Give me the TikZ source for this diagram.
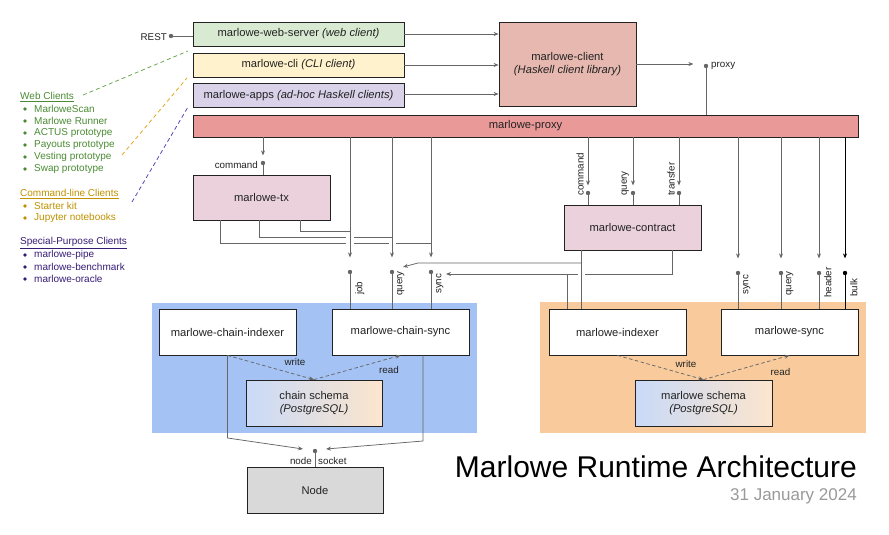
\documentclass[tikz,border=0pt]{standalone}
\usepackage{fontspec}
\setmainfont{Liberation Sans}
\usetikzlibrary{arrows.meta,calc}
\definecolor{lc}{HTML}{666666}
\definecolor{txt}{HTML}{222222}
\definecolor{webf}{HTML}{D9EAD3}
\definecolor{clif}{HTML}{FFF2CC}
\definecolor{appf}{HTML}{D9D2E9}
\definecolor{clientf}{HTML}{E6B8AF}
\definecolor{proxyf}{HTML}{EA9999}
\definecolor{pinkf}{HTML}{EAD1DC}
\definecolor{bluep}{HTML}{A4C2F4}
\definecolor{orangep}{HTML}{F9CB9C}
\definecolor{nodef}{HTML}{D9D9D9}
\definecolor{schL}{HTML}{C9DAF8}
\definecolor{schR}{HTML}{FCE5CD}
\definecolor{wgreen}{HTML}{4A8A33}
\definecolor{wgreenl}{HTML}{6AA84F}
\definecolor{cgold}{HTML}{BF9000}
\definecolor{cgoldl}{HTML}{E0A91E}
\definecolor{spurp}{HTML}{351C75}
\definecolor{spurpl}{HTML}{5B46B5}
\definecolor{dategray}{HTML}{999999}
\begin{document}
\begin{tikzpicture}[x=1pt,y=-1pt,
  box/.style={draw=txt, line width=0.8pt, inner sep=0pt, align=center,
    font=\fontsize{11.2}{13.5}\selectfont, text=txt},
  panel/.style={inner sep=0pt, draw=none},
  conn/.style={draw=lc, line width=0.75pt},
  arr/.style={conn, -{Stealth[length=5pt,width=4pt]}},
  darr/.style={arr, dash pattern=on 3.5pt off 2.5pt},
  port/.style={circle, fill=lc, inner sep=0pt, minimum size=4.4pt},
  lbl/.style={font=\fontsize{9.8}{11}\selectfont, text=txt, inner sep=1pt},
  rlbl/.style={lbl, rotate=90, anchor=north west},
  llbl/.style={lbl, rotate=90, anchor=south west},
  leg/.style={anchor=west, inner sep=0pt, font=\fontsize{10}{12}\selectfont},
  legdash/.style={line width=0.8pt, dash pattern=on 4pt off 3pt},
  bridge/.style={fill=white, draw=none},
]
\useasboundingbox (0,0) rectangle (889,535);

% ---------- panels ----------
\node[panel, fill=bluep, minimum width=325pt, minimum height=130pt] (bpanel) at (314.5,368) {};
\node[panel, fill=orangep, minimum width=326pt, minimum height=131pt] (opanel) at (703,367.5) {};

% ---------- boxes ----------
\node[box, fill=webf, minimum width=211pt, minimum height=24pt] (web) at (298.5,34) {marlowe-web-server \textit{(web client)}};
\node[box, fill=clif, minimum width=211pt, minimum height=24pt] (cli) at (298.5,65) {marlowe-cli \textit{(CLI client)}};
\node[box, fill=appf, minimum width=211pt, minimum height=24pt] (apps) at (298.5,95.5) {marlowe-apps \textit{(ad-hoc Haskell clients)}};
\node[box, fill=clientf, minimum width=137pt, minimum height=84pt] (client) at (567.5,64) {marlowe-client\\\textit{(Haskell client library)}};
\node[box, fill=proxyf, minimum width=665pt, minimum height=22pt] (proxy) at (525.5,126) {marlowe-proxy};
\node[box, fill=pinkf, minimum width=137pt, minimum height=45pt] (tx) at (261.5,197.5) {marlowe-tx};
\node[box, fill=pinkf, minimum width=137pt, minimum height=45pt] (contract) at (632.5,227.5) {marlowe-contract};
\node[box, fill=white, minimum width=137pt, minimum height=46pt] (cidx) at (227.5,332) {marlowe-chain-indexer};
\node[box, fill=white, minimum width=137pt, minimum height=46pt] (csync) at (400.5,332) {marlowe-chain-sync};
\node[box, left color=schL, right color=schR, minimum width=136pt, minimum height=46pt] (cschema) at (314,403) {chain schema\\\textit{(PostgreSQL)}};
\node[box, fill=white, minimum width=137pt, minimum height=46pt] (midx) at (617.5,332) {marlowe-indexer};
\node[box, fill=white, minimum width=137pt, minimum height=46pt] (msync) at (789.5,332) {marlowe-sync};
\node[box, left color=schL, right color=schR, minimum width=137pt, minimum height=46pt] (mschema) at (703.5,403) {marlowe schema\\\textit{(PostgreSQL)}};
\node[box, fill=nodef, minimum width=136pt, minimum height=46pt] (cnode) at (315,490) {Node};

% ---------- ports ----------
\node[port] (prest) at (171,36) {};
\node[port] (pproxy) at (706,66) {};
\node[port] (ptxc) at (263,163) {};
\node[port] (pjob) at (350,272) {};
\node[port] (pcq) at (392,272) {};
\node[port] (pcs) at (431,272) {};
\node[port] (pcc) at (588,193) {};
\node[port] (pcqq) at (633,193) {};
\node[port] (pct) at (679,193) {};
\node[port] (pss) at (738,273) {};
\node[port] (psq) at (781,273) {};
\node[port] (psh) at (819,273) {};
\node[port, fill=black] (psb) at (845,273) {};
\node[port] (pnode) at (315,451) {};

% ---------- labels ----------
\node[lbl, anchor=east] (lrest) at (168,37) {REST};
\node[lbl, anchor=west] (lproxy) at (710,66) {proxy};
\node[lbl, anchor=east] (ltxc) at (259,165) {command};
\node[rlbl] (ljob) at (354,296) {job};
\node[rlbl] (lcq) at (396,297) {query};
\node[rlbl] (lcs) at (435,295) {sync};
\node[llbl] (lcc) at (585,197) {command};
\node[llbl] (lcqq) at (630,197) {query};
\node[llbl] (lct) at (676,197) {transfer};
\node[rlbl] (lss) at (742,296) {sync};
\node[rlbl] (lsq) at (785,297) {query};
\node[rlbl] (lsh) at (823,299) {header};
\node[rlbl] (lsb) at (849,298) {bulk};
\node[lbl] (lcw) at (295,362) {write};
\node[lbl] (lcr) at (389,370) {read};
\node[lbl] (lmw) at (686,364) {write};
\node[lbl] (lmr) at (780.5,372) {read};
\node[lbl, anchor=east] (lnode) at (313,461) {node};
\node[lbl, anchor=west] (lsock) at (317,461) {socket};

% ---------- top connections ----------
\draw[conn] (prest) -- (prest -| web.west);
\draw[arr] (web.east) -- (web.east -| client.west);
\draw[arr] (cli.east) -- (cli.east -| client.west);
\draw[arr] (apps.east |- 0,94) -- (client.west |- 0,94);
\draw[arr] (client.east) -- ++(57,0);
\draw[conn] (pproxy) -- (pproxy |- proxy.north);

% ---------- marlowe-tx ----------
\draw[arr] (proxy.south -| ptxc) -- ++(0,18);
\draw[conn] (ptxc) -- (ptxc |- tx.north);
\coordinate (tj) at (350,231);
\coordinate (tq) at (392,237);
\coordinate (ts) at (431,243);
\draw[conn] ([xshift=38.5pt]tx.south) |- (tj);
\draw[conn] ([xshift=-2.5pt]tx.south) |- (tq);
\draw[conn] ([xshift=-41.5pt]tx.south) |- (ts);

% ---------- marlowe-contract outputs ----------
\coordinate (cqj) at (581,263);
\coordinate (cqb) at (418,263);
\coordinate (cqt) at (403,267);
\coordinate (csj) at (446,274);
\draw[arr] (cqj) -- (cqb) -- (cqt);
\draw[arr] ([xshift=39.5pt]contract.south) |- (csj);
\draw[conn] ([xshift=-50.5pt]midx.north) -- (567,274);

% bridges (line jumps)
\fill[bridge] (346,235.5) rectangle (354,238.5);
\fill[bridge] (346,241.5) rectangle (354,244.5);
\fill[bridge] (388.5,241.5) rectangle (395.5,244.5);
\fill[bridge] (577.5,272.5) rectangle (584.5,275.5);

\draw[conn] ([xshift=-51.5pt]contract.south) -- ([xshift=-36.5pt]midx.north);

% ---------- chain-sync ports ----------
\draw[arr] (proxy.south -| pjob) -- ++(0,120);
\draw[arr] (proxy.south -| pcq) -- ++(0,120);
\draw[arr] (proxy.south -| pcs) -- ++(0,120);
\draw[conn] (pjob) -- (pjob |- csync.north);
\draw[conn] (pcq) -- (pcq |- csync.north);
\draw[conn] (pcs) -- (pcs |- csync.north);

% ---------- contract ports ----------
\draw[arr] (proxy.south -| pcc) -- ++(0,48);
\draw[arr] (proxy.south -| pcqq) -- ++(0,48);
\draw[arr] (proxy.south -| pct) -- ++(0,48);
\draw[conn] (pcc) -- (pcc |- contract.north);
\draw[conn] (pcqq) -- (pcqq |- contract.north);
\draw[conn] (pct) -- (pct |- contract.north);

% ---------- marlowe-sync ports ----------
\draw[arr] (proxy.south -| pss) -- ++(0,121);
\draw[arr] (proxy.south -| psq) -- ++(0,121);
\draw[arr] (proxy.south -| psh) -- ++(0,121);
\draw[arr, draw=black, line width=0.9pt] (proxy.south -| psb) -- ++(0,121);
\draw[conn] (pss) -- (pss |- msync.north);
\draw[conn] (psq) -- (psq |- msync.north);
\draw[conn] (psh) -- (psh |- msync.north);
\draw[conn, draw=black, line width=0.9pt] (psb) -- (psb |- msync.north);

% ---------- schemas ----------
\draw[darr] (cidx.south) -- (cschema.north);
\draw[darr] (cschema.north) -- (csync.south);
\draw[darr] (midx.south) -- (mschema.north);
\draw[darr] (mschema.north) -- (msync.south);

% ---------- node ----------
\draw[arr] (cidx.south) -- (227.5,438) -- (303,449);
\draw[arr] ([xshift=22.5pt]csync.south) -- (423,441) -- (326,449);
\draw[conn] (pnode) -- (pnode |- cnode.north);

% ---------- legend ----------
\node[leg, text=wgreen] (hweb) at (20,97) {\underline{Web Clients}};
\foreach \t [count=\i] in {MarloweScan, Marlowe Runner, ACTUS prototype, Payouts prototype, Vesting prototype, Swap prototype} {
  \fill[wgreen] (25,{97+12*\i}) circle (1.8);
  \node[leg, text=wgreen] (w\i) at (34,{97+12*\i}) {\t};
}
\node[leg, text=cgold] (hcli) at (20,194) {\underline{Command-line Clients}};
\foreach \t [count=\i] in {Starter kit, Jupyter notebooks} {
  \fill[cgold] (25,{194+12*\i}) circle (1.8);
  \node[leg, text=cgold] (c\i) at (34,{194+12*\i}) {\t};
}
\node[leg, text=spurp] (hsp) at (20,243) {\underline{Special-Purpose Clients}};
\foreach \t [count=\i] in {marlowe-pipe, marlowe-benchmark, marlowe-oracle} {
  \fill[spurp] (25,{243+12*\i}) circle (1.8);
  \node[leg, text=spurp] (s\i) at (34,{243+12*\i}) {\t};
}
\coordinate (dwe) at (188,51);
\coordinate (dce) at (187,78);
\coordinate (dae) at (188,107);
\coordinate (dws) at (83,95);
\coordinate (dcs) at (122,155);
\coordinate (das) at (132,202);
\draw[legdash, wgreenl] (dws) -- (dwe);
\draw[legdash, cgoldl] (dcs) -- (dce);
\draw[legdash, spurpl] (das) -- (dae);

% ---------- title ----------
\node[anchor=base east, inner sep=0pt, font=\fontsize{30}{34}\selectfont, text=black] (title) at (857,477) {Marlowe Runtime Architecture};
\node[anchor=base east, inner sep=0pt, font=\fontsize{17}{20}\selectfont, text=dategray] (date) at (857,500) {31 January 2024};
\end{tikzpicture}
\end{document}
